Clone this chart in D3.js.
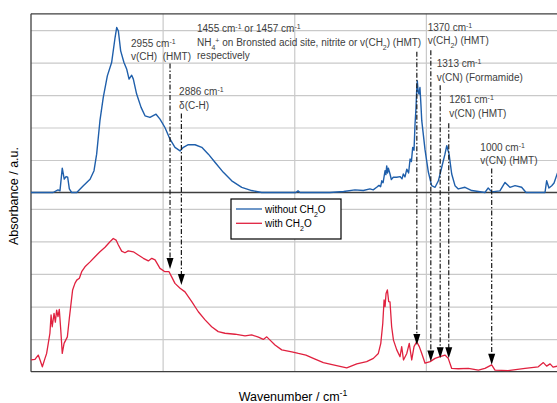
<!DOCTYPE html>
<html>
<head>
<meta charset="utf-8">
<script src="https://cdn.jsdelivr.net/npm/d3@7/dist/d3.min.js"></script>
<style>
  body { margin: 0; background: #fff; }
  svg { display: block; font-family: "Liberation Sans", Arial, sans-serif; }
  text { white-space: pre; }
</style>
</head>
<body>
<svg id="chart" width="557" height="403"></svg>
<script>
// spectrum without CH2O: [wavenumber, absorbance]
var withoutCH2O = [
  [3800, 0], [3666, 0], [3636, 0.08], [3624, 0.05], [3610, 0.75], [3598, 0.41], [3587, 0.49],
  [3577, 0.47], [3567, 0.11], [3553, 0], [3522, 0], [3482, 0.21], [3441, 0.41], [3417, 0.67],
  [3401, 1.18], [3381, 2.21], [3361, 2.92], [3336, 3.59], [3310, 4.0], [3289, 4.77], [3279, 5.08],
  [3269, 4.97], [3255, 4.36], [3235, 4.0], [3218, 3.79], [3204, 3.49], [3188, 3.61], [3178, 3.49],
  [3158, 3.03], [3131, 2.62], [3107, 2.36], [3077, 2.31], [3040, 2.41], [3016, 2.26], [2986, 2.0],
  [2955, 1.64], [2925, 1.39], [2894, 1.28], [2874, 1.39], [2844, 1.47], [2803, 1.47], [2762, 1.39],
  [2722, 1.18], [2682, 0.93], [2631, 0.62], [2580, 0.36], [2519, 0.16], [2459, 0.06], [2398, 0],
  [2190, 0], [2177, 0.05], [2165, 0], [1983, 0], [1900, 0.03], [1831, 0.08], [1780, 0.06],
  [1740, 0.11], [1720, 0.08], [1699, 0.16], [1685, 0.22], [1675, 0.18], [1668, 0.36], [1660, 0.3],
  [1648, 0.67], [1643, 0.55], [1638, 0.82], [1633, 0.6], [1628, 0.75], [1618, 0.57], [1610, 0.4],
  [1598, 0.47], [1577, 0.47], [1557, 0.49], [1545, 0.42], [1537, 0.57], [1527, 0.48], [1516, 0.72],
  [1505, 0.6], [1496, 1.03], [1488, 0.95], [1480, 1.39], [1472, 1.3], [1466, 2.1], [1460, 2.6],
  [1456, 3.13], [1452, 3.43], [1447, 3.1], [1442, 3.03], [1436, 3.23], [1430, 2.7], [1425, 2.21],
  [1405, 1.31], [1385, 0.63], [1365, 0.21], [1344, 0.16], [1324, 0.36], [1304, 0.77], [1284, 1.18],
  [1273, 1.44], [1259, 1.18], [1243, 0.57], [1223, 0.21], [1203, 0.11], [1162, 0.16], [1121, 0.06],
  [1041, 0], [1021, 0.14], [1000, 0.02], [950, 0.05], [919, 0.31], [889, 0.16], [858, 0.21],
  [818, 0.16], [791, 0], [676, 0], [666, 0.36], [652, 0.14], [635, 0.21], [621, 0.29], [600, 0.6]
];

// spectrum with CH2O: [wavenumber, absorbance]
var withCH2O = [
  [3800, 0.36], [3776, 0.38], [3756, 0.51], [3745, 0.36], [3731, 0.15], [3715, 0.41], [3705, 0.56],
  [3695, 0.87], [3685, 1.18], [3678, 1.74], [3671, 1.38], [3660, 1.79], [3652, 1.52], [3644, 1.89],
  [3636, 1.69], [3628, 1.91], [3619, 1.28], [3610, 0.56], [3599, 0.87], [3589, 0.97], [3579, 1.07],
  [3567, 1.64], [3559, 1.99], [3547, 2.51], [3533, 2.71], [3522, 2.81], [3506, 2.87], [3492, 3.07],
  [3472, 3.22], [3441, 3.37], [3411, 3.53], [3381, 3.68], [3350, 3.82], [3320, 3.99], [3300, 4.09],
  [3283, 4.04], [3269, 3.89], [3249, 3.70], [3229, 3.65], [3209, 3.71], [3178, 3.68], [3148, 3.58],
  [3117, 3.48], [3087, 3.40], [3066, 3.48], [3046, 3.43], [3016, 3.17], [2986, 3.07], [2961, 3.07],
  [2945, 2.91], [2925, 2.71], [2894, 2.56], [2864, 2.45], [2823, 2.15], [2783, 1.84], [2742, 1.59],
  [2702, 1.38], [2662, 1.23], [2621, 1.18], [2560, 1.15], [2499, 1.10], [2459, 1.13], [2418, 1.06],
  [2388, 0.99], [2367, 1.07], [2347, 0.97], [2317, 0.82], [2276, 0.67], [2215, 0.61], [2175, 0.56],
  [2129, 0.51], [2084, 0.41], [2023, 0.28], [1963, 0.21], [1881, 0.12], [1820, 0.24], [1760, 0.31],
  [1719, 0.41], [1689, 0.56], [1674, 0.87], [1662, 1.48], [1654, 2.2], [1648, 2.0], [1642, 2.40],
  [1634, 2.51], [1626, 2.15], [1618, 2.14], [1608, 1.38], [1597, 0.97], [1577, 0.67], [1557, 0.46],
  [1547, 0.77], [1536, 0.36], [1516, 0.56], [1501, 0.87], [1486, 0.36], [1472, 0.77], [1456, 0.92],
  [1440, 0.77], [1425, 0.56], [1405, 0.26], [1374, 0.31], [1344, 0.41], [1314, 0.46], [1284, 0.51],
  [1264, 0.41], [1243, 0.10], [1203, 0.09], [1142, 0.10], [1081, 0.05], [1041, 0.10], [1000, 0.21],
  [980, 0.05], [901, 0.03], [797, 0.10], [717, 0.15], [686, 0.28], [666, 0.17], [645, 0.24],
  [627, 0.14], [600, 0.17]
];

// band assignments: wavenumber, where the dash-dot line starts (upper trace units),
// where the arrow ends (lower trace units), label anchor (wavenumber, upper units), label lines
var bandWn    = [2955, 2886, 1455, 1370, 1313, 1261, 1000];
var bandStart = [3.97, 2.43, 4.33, 4.38, 3.30, 2.13, 0.74];
var bandTip   = [3.15, 2.66, 0.82, 0.31, 0.41, 0.41, 0.21];
var labelWn   = [3192, 2900, 2791, 1389, 1334, 1258, 1069];
var labelAbs  = [4.60, 3.10, 5.05, 5.09, 3.97, 2.86, 1.40];
var labelText = [
  ["2955 cm^{-1}", "v(CH)  (HMT)"],
  ["2886 cm^{-1}", "δ(C-H)"],
  ["1455 cm^{-1} or 1457 cm^{-1}", "NH_{4}^{+} on Bronsted acid site, nitrite or v(CH_{2}) (HMT)", "respectively"],
  ["1370 cm^{-1}", "v(CH_{2}) (HMT)"],
  ["1313 cm^{-1}", "v(CN) (Formamide)"],
  ["1261 cm^{-1}", "v(CN) (HMT)"],
  ["1000 cm^{-1}", "v(CN) (HMT)"]
];

var seriesNames = ["without CH_{2}O", "with CH_{2}O"];
var seriesColors = ["#1f5fab", "#e0213f"];
var xGrid = [3000, 2200, 1400];
var yGrid = [1, 2, 3, 4, 5];

var svg = d3.select('#chart');
var pLeft = 31, pRight = 557.5, pTop = 13.8, pMid = 192.5, pBottom = 371.7;

var x = d3.scaleLinear().domain([3800, 600]).range([pLeft, pRight]);
var yTop = d3.scaleLinear().domain([0, 5.5]).range([pMid, pTop]);
var yBot = d3.scaleLinear().domain([0, 5.5]).range([pBottom, pMid]);

svg.append('clipPath').attr('id', 'clip')
  .append('rect').attr('x', pLeft).attr('y', pTop).attr('width', pRight - pLeft).attr('height', pBottom - pTop);

// grids
function grid(g) {
  g.selectAll('.domain').remove();
  g.selectAll('.tick line').attr('stroke', '#c9c9c9').attr('stroke-width', 1.2);
}
svg.append('g').attr('transform', 'translate(' + pLeft + ',0)')
  .call(d3.axisLeft(yBot).tickValues(yGrid).tickSize(-(pRight - pLeft)).tickFormat('')).call(grid);
svg.append('g').attr('transform', 'translate(' + pLeft + ',0)')
  .call(d3.axisLeft(yTop).tickValues(yGrid).tickSize(-(pRight - pLeft)).tickFormat('')).call(grid);
svg.append('g').attr('transform', 'translate(0,' + pBottom + ')')
  .call(d3.axisBottom(x).tickValues(xGrid).tickSize(-(pBottom - pTop)).tickFormat('')).call(grid);

// frame
var frame = svg.append('g').attr('stroke', '#3f3f3f').attr('stroke-width', 1.3);
frame.append('line').attr('x1', pLeft).attr('x2', pRight).attr('y1', pTop).attr('y2', pTop);
frame.append('line').attr('x1', pLeft).attr('x2', pRight).attr('y1', pBottom).attr('y2', pBottom);
frame.append('line').attr('x1', pLeft).attr('x2', pLeft).attr('y1', pTop).attr('y2', pBottom);

var plot = svg.append('g').attr('clip-path', 'url(#clip)');
var lineTop = d3.line().x(function (d) { return x(d[0]); }).y(function (d) { return yTop(d[1]); });
var lineBot = d3.line().x(function (d) { return x(d[0]); }).y(function (d) { return yBot(d[1]); });

plot.append('path').datum(withCH2O).attr('d', lineBot)
  .attr('fill', 'none').attr('stroke', seriesColors[1]).attr('stroke-width', 1.3).attr('stroke-linejoin', 'round');

// axis of the upper trace
frame.append('line').attr('x1', pLeft).attr('x2', pRight).attr('y1', pMid).attr('y2', pMid);

plot.append('path').datum(withoutCH2O).attr('d', lineTop)
  .attr('fill', 'none').attr('stroke', seriesColors[0]).attr('stroke-width', 1.4).attr('stroke-linejoin', 'round');

// rich text helper: ^{..} superscript, _{..} subscript
function rich(textSel, str) {
  var parts = str.split(/(\^\{[^}]*\}|_\{[^}]*\})/);
  parts.forEach(function (p) {
    if (!p) return;
    if (p[0] == '^') {
      textSel.append('tspan').attr('baseline-shift', 'super').attr('font-size', '70%').text(p.slice(2, -1));
    } else if (p[0] == '_') {
      textSel.append('tspan').attr('baseline-shift', 'sub').attr('font-size', '70%').text(p.slice(2, -1));
    } else {
      textSel.append('tspan').text(p);
    }
  });
}

// arrows
var arrows = svg.append('g');
for (var i = 0; i < bandWn.length; i++) {
  var ax = x(bandWn[i]);
  var y0 = yTop(bandStart[i]);
  var y1 = yBot(bandTip[i]);
  arrows.append('line').attr('x1', ax).attr('x2', ax).attr('y1', y0).attr('y2', y1 - 8)
    .attr('stroke', '#1a1a1a').attr('stroke-width', 1.2).attr('stroke-dasharray', '5,2,1.5,2');
  arrows.append('path')
    .attr('d', 'M' + (ax - 3.5) + ',' + (y1 - 11) + 'L' + (ax + 3.5) + ',' + (y1 - 11) + 'L' + ax + ',' + y1 + 'Z')
    .attr('fill', '#000');
}

// labels
var labels = svg.append('g').attr('fill', '#404040').attr('font-size', 10);
for (var i = 0; i < labelText.length; i++) {
  labelText[i].forEach(function (s, j) {
    var t = labels.append('text').attr('x', x(labelWn[i])).attr('y', yTop(labelAbs[i]) + j * 13.6 + 3.6);
    rich(t, s);
  });
}

// legend
var lg = svg.append('g').attr('transform', 'translate(231,199)');
lg.append('rect').attr('width', 110).attr('height', 40).attr('fill', '#fff').attr('stroke', '#000').attr('stroke-width', 1.2);
seriesNames.forEach(function (name, i) {
  var yy = 10 + i * 14.3;
  lg.append('line').attr('x1', 5).attr('x2', 31).attr('y1', yy).attr('y2', yy)
    .attr('stroke', seriesColors[i]).attr('stroke-width', 1.3);
  var t = lg.append('text').attr('x', 34).attr('y', yy + 3.6).attr('font-size', 10).attr('fill', '#000');
  rich(t, name);
});

// axis titles
var yt = svg.append('text').attr('transform', 'translate(18,196) rotate(-90)')
  .attr('text-anchor', 'middle').attr('font-size', 12.5).attr('fill', '#000');
rich(yt, 'Absorbance / a.u.');
var xt = svg.append('text').attr('x', 293).attr('y', 400.5)
  .attr('text-anchor', 'middle').attr('font-size', 12.5).attr('fill', '#000');
rich(xt, 'Wavenumber / cm^{-1}');
</script>
</body>
</html>
